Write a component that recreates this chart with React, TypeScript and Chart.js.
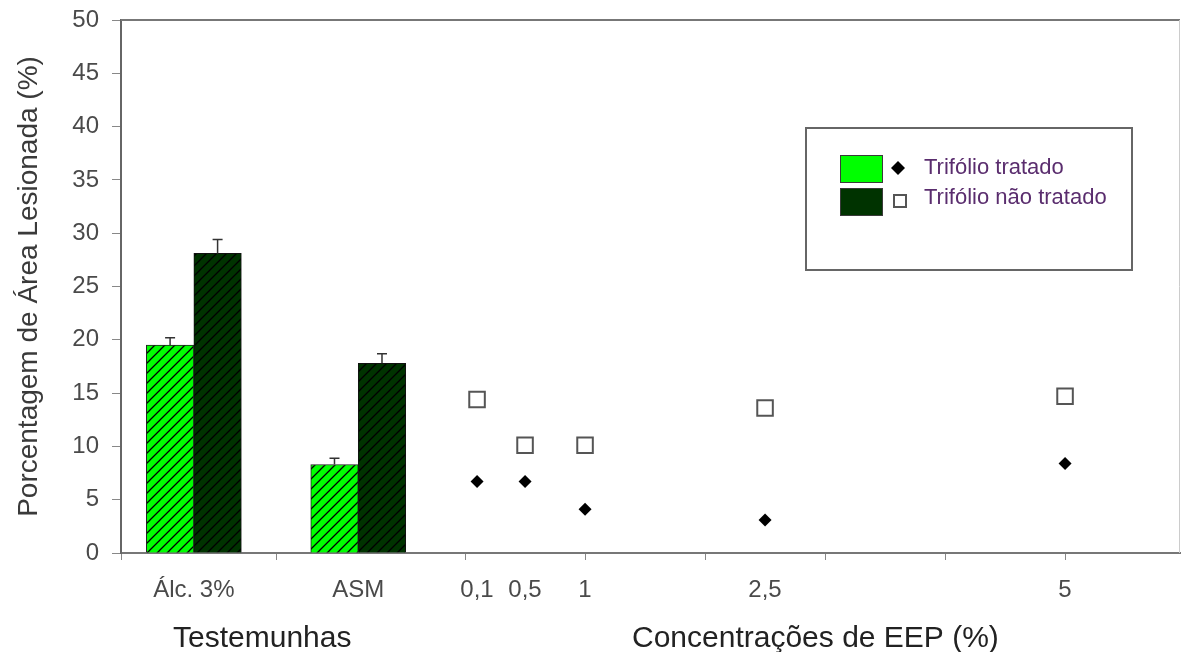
import React, { useEffect, useRef } from 'react';
import { Chart, registerables } from 'chart.js';

Chart.register(...registerables);

// ---- data ----
const controlLabels = ['Álc. 3%', 'ASM'];
const controlPositions = [-2.26, -0.89];
const treatedBars = [19.5, 8.3];
const treatedBarErrors = [0.7, 0.6];
const untreatedBars = [28.1, 17.8];
const untreatedBarErrors = [1.3, 0.9];

const concentrations = [0.1, 0.5, 1, 2.5, 5];
const concentrationLabels = ['0,1', '0,5', '1', '2,5', '5'];
const treatedPoints = [6.7, 6.7, 4.1, 3.1, 8.4];
const untreatedPoints = [14.4, 10.1, 10.1, 13.6, 14.7];

const xTickMarks = [-2.867, -1.57, 0, 1, 2, 3, 4, 5];
const groupTitles = ['Testemunhas', 'Concentrações de EEP (%)'];
const groupTitlePositions = [-1.69, 2.92];
const seriesNames = ['Trifólio tratado', 'Trifólio não tratado'];
const yTitle = 'Porcentagem de Área Lesionada (%)';

// ---- style ----
const FONT = '"Liberation Sans", Arial, sans-serif';
const LIGHT = '#00ff00';
const DARK = '#003300';
const X_MIN = -2.867;
const X_MAX = 5.958;

export default function App() {
  const ref = useRef<HTMLCanvasElement>(null);

  useEffect(() => {
    const canvas = ref.current!;

    const makeHatch = (bg: string) => {
      const s = 10;
      const c = document.createElement('canvas');
      c.width = s;
      c.height = s;
      const g = c.getContext('2d')!;
      g.fillStyle = bg;
      g.fillRect(0, 0, s, s);
      g.strokeStyle = '#000';
      g.lineWidth = 1.3;
      g.beginPath();
      g.moveTo(-1, s + 1);
      g.lineTo(s + 1, -1);
      g.moveTo(-1, 1);
      g.lineTo(1, -1);
      g.moveTo(s - 1, s + 1);
      g.lineTo(s + 1, s - 1);
      g.stroke();
      return g.createPattern(c, 'repeat')!;
    };

    const errorBarPlugin = {
      id: 'errorBars',
      afterDatasetsDraw(chart: any) {
        const { ctx } = chart;
        const yScale = chart.scales.y;
        const sets: [number, number[], number[]][] = [
          [0, treatedBars, treatedBarErrors],
          [1, untreatedBars, untreatedBarErrors],
        ];
        ctx.save();
        ctx.strokeStyle = '#333';
        ctx.lineWidth = 1.5;
        sets.forEach(([di, vals, errs]) => {
          const meta = chart.getDatasetMeta(di);
          meta.data.forEach((el: any, i: number) => {
            const x = el.x;
            const yTop = el.y;
            const yE = yScale.getPixelForValue(vals[i] + errs[i]);
            ctx.beginPath();
            ctx.moveTo(x, yTop);
            ctx.lineTo(x, yE);
            ctx.moveTo(x - 5, yE);
            ctx.lineTo(x + 5, yE);
            ctx.stroke();
          });
        });
        ctx.restore();
      },
    };

    const framePlugin = {
      id: 'frame',
      beforeDatasetsDraw(chart: any) {
        const { ctx, chartArea } = chart;
        ctx.save();
        ctx.strokeStyle = '#777';
        ctx.lineWidth = 2;
        ctx.beginPath();
        ctx.moveTo(chartArea.left, chartArea.top);
        ctx.lineTo(chartArea.right, chartArea.top);
        ctx.stroke();
        ctx.strokeStyle = '#ccc';
        ctx.lineWidth = 1;
        ctx.beginPath();
        ctx.moveTo(chartArea.right - 0.5, chartArea.top);
        ctx.lineTo(chartArea.right - 0.5, chartArea.bottom);
        ctx.stroke();
        ctx.restore();
      },
    };

    const legendPlugin = {
      id: 'customLegend',
      afterDraw(chart: any) {
        const { ctx } = chart;
        ctx.save();
        ctx.fillStyle = '#fff';
        ctx.fillRect(806, 128, 326, 142);
        ctx.strokeStyle = '#666';
        ctx.lineWidth = 2;
        ctx.strokeRect(806, 128, 326, 142);
        // swatches
        ctx.lineWidth = 1;
        ctx.fillStyle = LIGHT;
        ctx.fillRect(840, 155, 42, 27);
        ctx.strokeStyle = '#3a3a3a';
        ctx.strokeRect(840.5, 155.5, 42, 27);
        ctx.fillStyle = DARK;
        ctx.fillRect(840, 188, 42, 27);
        ctx.strokeRect(840.5, 188.5, 42, 27);
        // diamond
        ctx.fillStyle = '#000';
        ctx.beginPath();
        ctx.moveTo(898, 161);
        ctx.lineTo(905, 168);
        ctx.lineTo(898, 175);
        ctx.lineTo(891, 168);
        ctx.closePath();
        ctx.fill();
        // square
        ctx.strokeStyle = '#555';
        ctx.lineWidth = 2;
        ctx.fillStyle = '#fff';
        ctx.fillRect(894, 195, 12, 12);
        ctx.strokeRect(894, 195, 12, 12);
        // text
        ctx.fillStyle = '#5a2d6e';
        ctx.font = `22px ${FONT}`;
        ctx.textBaseline = 'middle';
        ctx.textAlign = 'left';
        ctx.fillText(seriesNames[0], 924, 168);
        ctx.fillText(seriesNames[1], 924, 198);
        ctx.restore();
      },
    };

    const hiddenAxisBase = {
      type: 'linear',
      position: 'bottom',
      min: X_MIN,
      max: X_MAX,
      offset: false,
      grid: { display: false, offset: false },
      border: { display: false },
    };

    const chart = new Chart(canvas, {
      type: 'scatter',
      data: {
        datasets: [
          {
            type: 'bar',
            label: seriesNames[0],
            data: controlPositions.map((x, i) => ({ x, y: treatedBars[i] })),
            backgroundColor: makeHatch(LIGHT),
            borderColor: '#222',
            borderWidth: 1,
            barThickness: 47.5,
            grouped: true,
          } as any,
          {
            type: 'bar',
            label: seriesNames[1],
            data: controlPositions.map((x, i) => ({ x, y: untreatedBars[i] })),
            backgroundColor: makeHatch(DARK),
            borderColor: '#111',
            borderWidth: 1,
            barThickness: 47.5,
            grouped: true,
          } as any,
          {
            type: 'scatter',
            label: seriesNames[0],
            data: concentrations.map((x, i) => ({ x, y: treatedPoints[i] })),
            pointStyle: 'rectRot',
            pointRadius: 6.5,
            backgroundColor: '#000',
            borderColor: '#000',
            borderWidth: 0,
            showLine: false,
          } as any,
          {
            type: 'scatter',
            label: seriesNames[1],
            data: concentrations.map((x, i) => ({ x, y: untreatedPoints[i] })),
            pointStyle: 'rect',
            pointRadius: 11,
            backgroundColor: '#fff',
            borderColor: '#555',
            borderWidth: 2,
            showLine: false,
          } as any,
        ],
      },
      options: {
        animation: false,
        responsive: true,
        maintainAspectRatio: false,
        events: [],
        layout: { autoPadding: false, padding: { top: 20, right: 1, left: 0, bottom: 0 } },
        plugins: {
          legend: { display: false },
          tooltip: { enabled: false },
        },
        scales: {
          x: {
            type: 'linear',
            position: 'bottom',
            weight: 0,
            min: X_MIN,
            max: X_MAX,
            offset: false,
            afterBuildTicks: (scale: any) => {
              scale.ticks = xTickMarks.map((v) => ({ value: v }));
            },
            afterFit: (scale: any) => {
              scale.height = 7;
              scale.paddingLeft = 0;
              scale.paddingRight = 0;
            },
            ticks: { display: false },
            grid: { drawOnChartArea: false, tickLength: 7, color: '#888', offset: false },
            border: { color: '#777', width: 2 },
          },
          xl: {
            ...hiddenAxisBase,
            weight: 1,
            afterBuildTicks: (scale: any) => {
              scale.ticks = [...controlPositions, ...concentrations].map((v) => ({ value: v }));
            },
            afterFit: (scale: any) => {
              scale.height = 50;
              scale.paddingLeft = 0;
              scale.paddingRight = 0;
            },
            ticks: {
              autoSkip: false,
              maxRotation: 0,
              padding: 8,
              color: '#4a4a4a',
              font: { family: FONT, size: 24 },
              callback: (_v: any, i: number) => [...controlLabels, ...concentrationLabels][i],
            },
          },
          xt: {
            ...hiddenAxisBase,
            weight: 2,
            afterBuildTicks: (scale: any) => {
              scale.ticks = groupTitlePositions.map((v) => ({ value: v }));
            },
            afterFit: (scale: any) => {
              scale.height = 42;
              scale.paddingLeft = 0;
              scale.paddingRight = 0;
            },
            ticks: {
              autoSkip: false,
              maxRotation: 0,
              padding: 3,
              color: '#222',
              font: { family: FONT, size: 30 },
              callback: (_v: any, i: number) => groupTitles[i],
            },
          },
          y: {
            type: 'linear',
            position: 'left',
            min: 0,
            max: 50,
            afterFit: (scale: any) => {
              scale.width = 121;
              scale.paddingTop = 20;
              scale.paddingBottom = 0;
            },
            ticks: {
              stepSize: 5,
              padding: 13,
              color: '#4a4a4a',
              font: { family: FONT, size: 24 },
            },
            grid: { drawOnChartArea: false, tickLength: 9, color: '#888' },
            border: { color: '#666', width: 2 },
            title: {
              display: true,
              text: yTitle,
              color: '#3a3a3a',
              font: { family: FONT, size: 28 },
              padding: { top: 12, bottom: 0 },
            },
          },
        },
      } as any,
      plugins: [framePlugin, errorBarPlugin, legendPlugin],
    });

    return () => chart.destroy();
  }, []);

  return (
    <div style={{ position: 'absolute', left: 0, top: 0, width: 1181, height: 652 }}>
      <canvas ref={ref} />
    </div>
  );
}
